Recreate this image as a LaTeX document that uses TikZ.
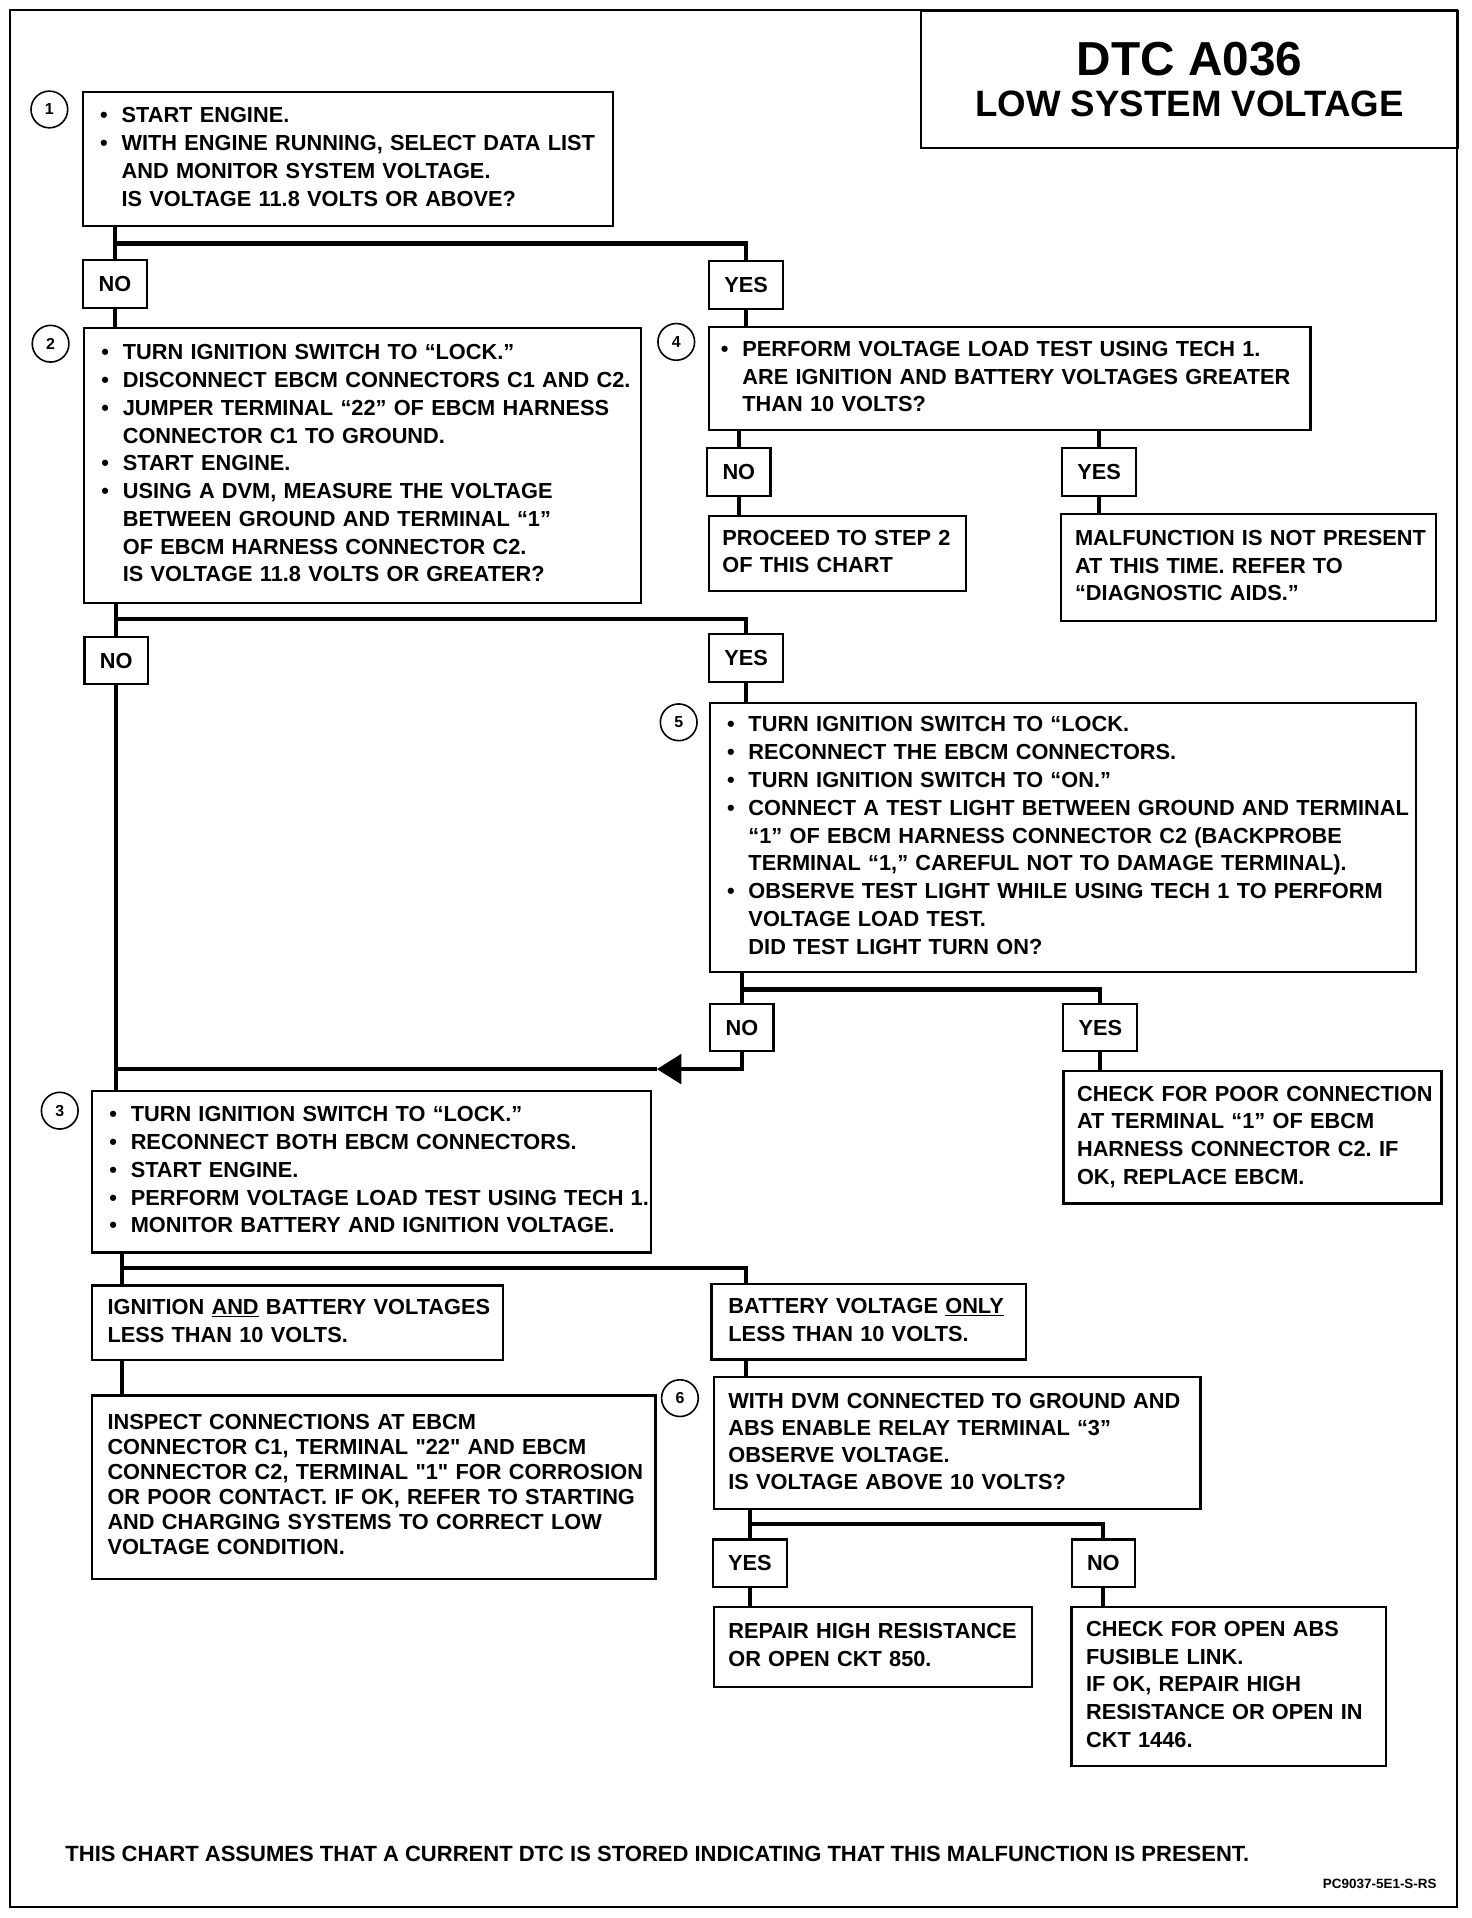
\documentclass[tikz,border=0pt]{standalone}
\usepackage{fontspec}
\setmainfont{Liberation Sans}
\usetikzlibrary{arrows.meta,positioning}
\newcommand{\bul}{\makebox[17.5pt][l]{\textbullet}}
\newcommand{\ind}{\hspace*{17.5pt}}
\tikzset{
  stepbox/.style={draw, line width=1.8pt, anchor=north west, align=left, inner xsep=14pt, inner ysep=0pt},
  answer/.style={draw, line width=1.8pt, inner xsep=12.5pt, inner ysep=0pt, minimum height=39pt},
  stepnum/.style={draw, circle, line width=1.3pt, minimum size=30pt, inner sep=0pt, font=\fontsize{13}{13}\selectfont\bfseries},
  titlebox/.style={draw, line width=1.8pt, anchor=north west, align=center},
  branch/.style={line width=3.5pt},
  frame/.style={line width=1.8pt}
}

\begin{document}
\frenchspacing
\begin{tikzpicture}[x=1pt, y=-1pt, font=\fontsize{17.8}{22.7}\selectfont\bfseries]
  \useasboundingbox (0,0) rectangle (1203,1568);
  \draw[frame] (8,8) rectangle (1191,1559);
  \node[titlebox, minimum width=439pt, minimum height=112pt, font=\fontsize{30}{34}\selectfont\bfseries] (title) at (752,8)
    {{\fontsize{39}{34}\selectfont DTC A036}\\LOW SYSTEM VOLTAGE};

  % step 1
  \node[stepbox, text width=405pt, minimum height=110pt] (s1) at (67,74) {\begin{tabular}{@{}l@{}}
    \bul START ENGINE.\\
    \bul WITH ENGINE RUNNING, SELECT DATA LIST\\
    \ind AND MONITOR SYSTEM VOLTAGE.\\
    \ind IS VOLTAGE 11.8 VOLTS OR ABOVE?
  \end{tabular}};
  \node[stepnum, left=11pt of s1.north west, yshift=-15.5pt] (c1) {1};
  \coordinate (j1) at (94,199);
  \node[answer] (n1) at (94,232) {NO};
  \node[answer] (y1) at (610,233) {YES};

  % step 2
  \node[stepbox, text width=427pt, minimum height=225pt] (s2) at (68,267) {\begin{tabular}{@{}l@{}}
    \bul TURN IGNITION SWITCH TO “LOCK.”\\
    \bul DISCONNECT EBCM CONNECTORS C1 AND C2.\\
    \bul JUMPER TERMINAL “22” OF EBCM HARNESS\\
    \ind CONNECTOR C1 TO GROUND.\\
    \bul START ENGINE.\\
    \bul USING A DVM, MEASURE THE VOLTAGE\\
    \ind BETWEEN GROUND AND TERMINAL “1”\\
    \ind OF EBCM HARNESS CONNECTOR C2.\\
    \ind IS VOLTAGE 11.8 VOLTS OR GREATER?
  \end{tabular}};
  \node[stepnum, left=11pt of s2.north west, yshift=-14pt] (c2) {2};
  \coordinate (j2) at (95,506);
  \node[answer] (n2) at (95,540) {NO};
  \node[answer] (y2) at (610,538) {YES};

  % step 4
  \node[stepbox, inner xsep=10pt, text width=472pt, minimum height=84pt] (s4) at (578.5,266.5) {\begin{tabular}{@{}l@{}}
    \bul PERFORM VOLTAGE LOAD TEST USING TECH 1.\\
    \ind ARE IGNITION AND BATTERY VOLTAGES GREATER\\
    \ind THAN 10 VOLTS?
  \end{tabular}};
  \node[stepnum, left=10pt of s4.north west, yshift=-13pt] (c4) {4};
  \node[answer] (n4) at (604,386) {NO};
  \node[answer] (y4) at (898.5,386) {YES};
  \node[stepbox, inner xsep=11pt, text width=188pt, minimum height=61pt] (r4n) at (578.6,421) {\begin{tabular}{@{}l@{}}
    PROCEED TO STEP 2\\
    OF THIS CHART
  \end{tabular}};
  \node[stepbox, inner xsep=11.5pt, text width=283.5pt, minimum height=88pt] (r4y) at (866.5,419) {\begin{tabular}{@{}l@{}}
    MALFUNCTION IS NOT PRESENT\\
    AT THIS TIME. REFER TO\\
    “DIAGNOSTIC AIDS.”
  \end{tabular}};

  % step 5
  \node[stepbox, text width=549.5pt, minimum height=220.5pt] (s5) at (579.5,573.5) {\begin{tabular}{@{}l@{}}
    \bul TURN IGNITION SWITCH TO “LOCK.\\
    \bul RECONNECT THE EBCM CONNECTORS.\\
    \bul TURN IGNITION SWITCH TO “ON.”\\
    \bul CONNECT A TEST LIGHT BETWEEN GROUND AND TERMINAL\\
    \ind “1” OF EBCM HARNESS CONNECTOR C2 (BACKPROBE\\
    \ind TERMINAL “1,” CAREFUL NOT TO DAMAGE TERMINAL).\\
    \bul OBSERVE TEST LIGHT WHILE USING TECH 1 TO PERFORM\\
    \ind VOLTAGE LOAD TEST.\\
    \ind DID TEST LIGHT TURN ON?
  \end{tabular}};
  \node[stepnum, left=9pt of s5.north west, yshift=-17pt] (c5) {5};
  \coordinate (j5) at (606.5,809);
  \node[answer] (n5) at (606.5,840) {NO};
  \node[answer] (y5) at (899.5,840) {YES};
  \coordinate (m5) at (537,874);
  \node[stepbox, inner xsep=11pt, text width=287pt, minimum height=108.5pt] (r5y) at (868.6,874.5) {\begin{tabular}{@{}l@{}}
    CHECK FOR POOR CONNECTION\\
    AT TERMINAL “1” OF EBCM\\
    HARNESS CONNECTOR C2. IF\\
    OK, REPLACE EBCM.
  \end{tabular}};

  % step 3
  \node[stepbox, text width=428.5pt, minimum height=132pt] (s3) at (74.5,891) {\begin{tabular}{@{}l@{}}
    \bul TURN IGNITION SWITCH TO “LOCK.”\\
    \bul RECONNECT BOTH EBCM CONNECTORS.\\
    \bul START ENGINE.\\
    \bul PERFORM VOLTAGE LOAD TEST USING TECH 1.\\
    \bul MONITOR BATTERY AND IGNITION VOLTAGE.
  \end{tabular}};
  \node[stepnum, left=10pt of s3.north west, yshift=-17pt] (c3) {3};
  \coordinate (j3) at (100,1036.5);
  \node[stepbox, inner xsep=12.5pt, text width=310.5pt, minimum height=61pt] (a3) at (74.5,1050) {\begin{tabular}{@{}l@{}}
    IGNITION \underline{AND} BATTERY VOLTAGES\\
    LESS THAN 10 VOLTS.
  \end{tabular}};
  \node[stepbox, inner xsep=13.8pt, text width=229.6pt, minimum height=62pt] (b3) at (580.8,1048.5) {\begin{tabular}{@{}l@{}}
    BATTERY VOLTAGE \underline{ONLY}\\
    LESS THAN 10 VOLTS.
  \end{tabular}};
  \node[stepbox, inner xsep=12.5pt, text width=435.5pt, minimum height=150pt, font=\fontsize{17.8}{20.4}\selectfont\bfseries] (r3a) at (74.5,1140) {\begin{tabular}{@{}l@{}}
    INSPECT CONNECTIONS AT EBCM\\
    CONNECTOR C1, TERMINAL \textquotedbl22\textquotedbl{} AND EBCM\\
    CONNECTOR C2, TERMINAL \textquotedbl1\textquotedbl{} FOR CORROSION\\
    OR POOR CONTACT. IF OK, REFER TO STARTING\\
    AND CHARGING SYSTEMS TO CORRECT LOW\\
    VOLTAGE CONDITION.
  \end{tabular}};

  % step 6
  \node[stepbox, inner xsep=12pt, text width=374pt, minimum height=108pt, font=\fontsize{17.8}{22}\selectfont\bfseries] (s6) at (582.5,1125) {\begin{tabular}{@{}l@{}}
    WITH DVM CONNECTED TO GROUND AND\\
    ABS ENABLE RELAY TERMINAL “3”\\
    OBSERVE VOLTAGE.\\
    IS VOLTAGE ABOVE 10 VOLTS?
  \end{tabular}};
  \node[stepnum, left=11pt of s6.north west, yshift=-18pt] (c6) {6};
  \coordinate (j6) at (613,1246);
  \node[answer] (y6) at (613,1278) {YES};
  \node[answer] (n6) at (902,1278) {NO};
  \node[stepbox, inner xsep=12pt, text width=236pt, minimum height=65.5pt] (r6y) at (582.5,1313) {\begin{tabular}{@{}l@{}}
    REPAIR HIGH RESISTANCE\\
    OR OPEN CKT 850.
  \end{tabular}};
  \node[stepbox, inner xsep=12pt, text width=233pt, minimum height=129.5pt] (r6n) at (875,1313) {\begin{tabular}{@{}l@{}}
    CHECK FOR OPEN ABS\\
    FUSIBLE LINK.\\
    IF OK, REPAIR HIGH\\
    RESISTANCE OR OPEN IN\\
    CKT 1446.
  \end{tabular}};

  \node[anchor=base west, font=\fontsize{18}{18}\selectfont\bfseries] (note) at (50,1522)
    {THIS CHART ASSUMES THAT A CURRENT DTC IS STORED INDICATING THAT THIS MALFUNCTION IS PRESENT.};
  \node[anchor=base east, font=\fontsize{11}{11}\selectfont\bfseries] (code) at (1178,1544) {PC9037-5E1-S-RS};

  % connectors
  \draw[branch] (n1.north |- s1.south) -- (n1.north);
  \draw[branch] (j1) -| (y1.north);
  \draw[branch] (n1.south) -- (n1.south |- s2.north);
  \draw[branch] (y1.south) -- (y1.south |- s4.north);
  \draw[branch] (n4.north |- s4.south) -- (n4.north);
  \draw[branch] (y4.north |- s4.south) -- (y4.north);
  \draw[branch] (n4.south) -- (n4.south |- r4n.north);
  \draw[branch] (y4.south) -- (y4.south |- r4y.north);
  \draw[branch] (n2.north |- s2.south) -- (n2.north);
  \draw[branch] (j2) -| (y2.north);
  \draw[branch] (y2.south) -- (y2.south |- s5.north);
  \draw[branch] (n2.south) -- (n2.south |- s3.north);
  \draw[branch] (n5.north |- s5.south) -- (n5.north);
  \draw[branch] (j5) -| (y5.north);
  \draw[branch] (y5.south) -- (y5.south |- r5y.north);
  \draw[branch, -{Triangle[length=20pt, width=24pt]}] (n5.south) |- (m5);
  \draw[branch] (m5) -- (m5 -| n2.south);
  \draw[branch] (j3 |- s3.south) -- (j3 |- a3.north);
  \draw[branch] (j3) -| ([xshift=29.2pt]b3.north west);
  \draw[branch] (j3 |- a3.south) -- (j3 |- r3a.north);
  \draw[branch] ([xshift=29.2pt]b3.south west) -- ([xshift=29.2pt]b3.south west |- s6.north);
  \draw[branch] (y6.north |- s6.south) -- (y6.north);
  \draw[branch] (j6) -| (n6.north);
  \draw[branch] (y6.south) -- (y6.south |- r6y.north);
  \draw[branch] (n6.south) -- (n6.south |- r6n.north);
\end{tikzpicture}
\end{document}
